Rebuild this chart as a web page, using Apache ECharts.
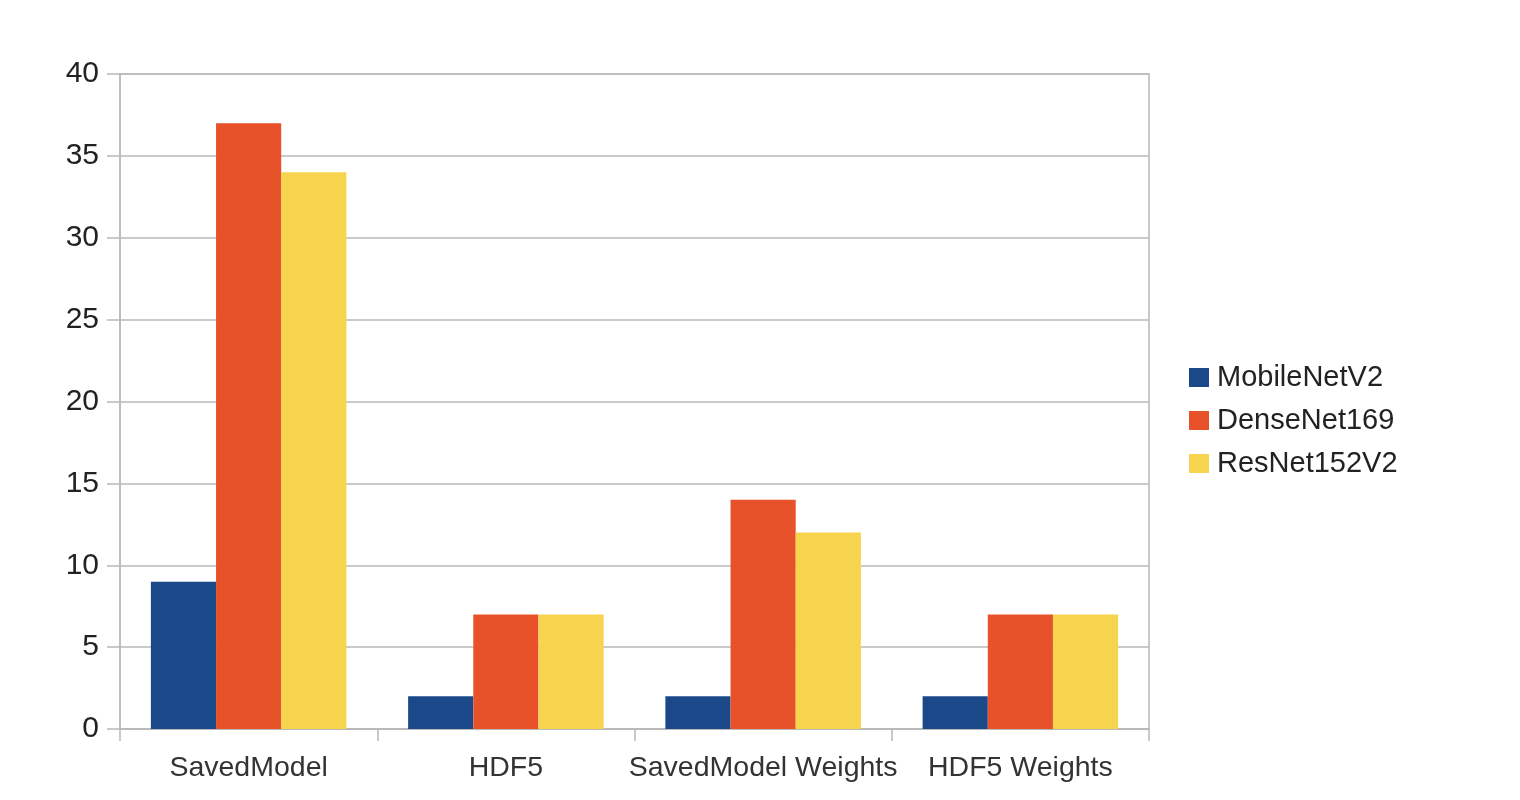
<!DOCTYPE html>
<html>
<head>
<meta charset="utf-8">
<script src="https://cdn.jsdelivr.net/npm/echarts@6/dist/echarts.min.js"></script>
<style>
html,body{margin:0;padding:0;background:#fff;}
#chart{width:1520px;height:800px;}
</style>
</head>
<body>
<div id="chart"></div>
<script>
const categories = ['SavedModel', 'HDF5', 'SavedModel Weights', 'HDF5 Weights'];
const seriesNames = ['MobileNetV2', 'DenseNet169', 'ResNet152V2'];
const mobileNetV2 = [9, 2, 2, 2];
const denseNet169 = [37, 7, 14, 7];
const resNet152V2 = [34, 7, 12, 7];
const colors = ['#1b4888', '#e8522a', '#f6d44d'];
const lineColor = '#b8b8b8';

const chart = echarts.init(document.getElementById('chart'));
const font = '"Liberation Sans", Arial, sans-serif';
chart.setOption({
  animation: false,
  color: colors,
  grid: {left: 120, right: 371, top: 74, bottom: 71, show: true, borderColor: lineColor, borderWidth: 1.5, backgroundColor: 'transparent'},
  legend: {
    orient: 'vertical', left: 1184, top: 358,
    itemWidth: 20, itemHeight: 19, itemGap: 14, icon: 'rect',
    data: seriesNames,
    textStyle: {fontFamily: font, fontSize: 29, color: '#222', padding: [0, 0, 0, 3]}
  },
  xAxis: {
    type: 'category', data: categories,
    axisLine: {show: true, lineStyle: {color: lineColor, width: 1.5}},
    axisTick: {show: true, length: 12, lineStyle: {color: lineColor, width: 1.5}},
    axisLabel: {fontFamily: font, fontSize: 28.5, color: '#333', margin: 25, interval: 0}
  },
  yAxis: {
    type: 'value', min: 0, max: 40, interval: 5,
    axisLine: {show: true, lineStyle: {color: lineColor, width: 1.5}},
    axisTick: {show: true, length: 13, lineStyle: {color: lineColor, width: 1.5}},
    splitLine: {lineStyle: {color: lineColor, width: 1.5}},
    axisLabel: {fontFamily: font, fontSize: 30, color: '#222', margin: 21}
  },
  series: [
    {name: seriesNames[0], type: 'bar', data: mobileNetV2, barGap: '0%', barCategoryGap: '24%'},
    {name: seriesNames[1], type: 'bar', data: denseNet169, barGap: '0%', barCategoryGap: '24%'},
    {name: seriesNames[2], type: 'bar', data: resNet152V2, barGap: '0%', barCategoryGap: '24%'}
  ]
});
</script>
</body>
</html>
